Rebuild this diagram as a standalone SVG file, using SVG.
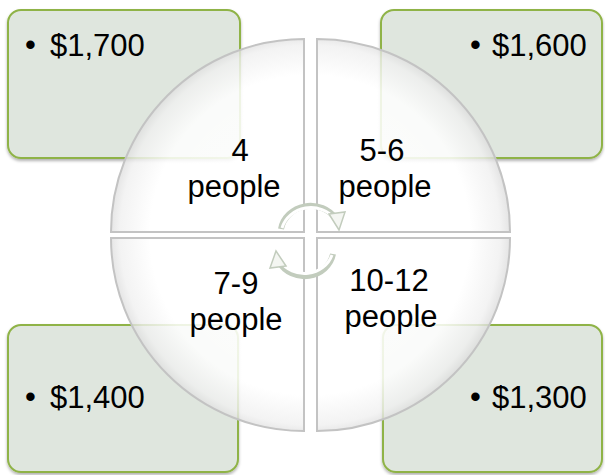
<svg xmlns="http://www.w3.org/2000/svg" width="605" height="475" viewBox="0 0 605 475">
<defs>
<style>
.box{fill:#dfe6de;stroke:#8fb347;stroke-width:2}
.q{fill:url(#glass);stroke:#c3c3c3;stroke-width:2}
.t{font-family:"Liberation Sans",Arial,sans-serif;font-size:31px;fill:#000}
.c{text-anchor:middle}
.arr{fill:none;stroke:#c2ccbd;stroke-width:6;stroke-linecap:butt}
.arri{fill:none;stroke:#ffffff;stroke-width:3}
.ah{fill:#f4f6f2;stroke:#c2ccbd;stroke-width:1.5}
</style>
<radialGradient id="glass" gradientUnits="userSpaceOnUse" cx="310" cy="235" r="200">
<stop offset="0" stop-color="#ffffff" stop-opacity="0.95"/>
<stop offset="0.8" stop-color="#ffffff" stop-opacity="0.85"/>
<stop offset="0.95" stop-color="#f0f0f0" stop-opacity="0.8"/>
<stop offset="1" stop-color="#dedede" stop-opacity="0.8"/>
</radialGradient>
<filter id="sh" x="-5%" y="-5%" width="110%" height="115%">
<feDropShadow dx="0" dy="2" stdDeviation="1.5" flood-color="#000" flood-opacity="0.3"/>
</filter>
</defs>
<g id="box-tl"><rect class="box" x="8" y="10" width="232" height="148" rx="13" filter="url(#sh)"/></g>
<g id="box-tr"><rect class="box" x="381" y="10" width="221" height="148" rx="13" filter="url(#sh)"/></g>
<g id="box-bl"><rect class="box" x="8" y="325" width="230" height="147" rx="13" filter="url(#sh)"/></g>
<g id="box-br"><rect class="box" x="383" y="325" width="219" height="147" rx="13" filter="url(#sh)"/></g>
<g id="quad-tl"><path class="q" d="M304,232 L111,232 A193,193 0 0 1 304,39 Z"/></g>
<g id="quad-tr"><path class="q" d="M317,232 L317,39 A193,193 0 0 1 510,232 Z"/></g>
<g id="quad-br"><path class="q" d="M317,238 L510,238 A193,193 0 0 1 317,431 Z"/></g>
<g id="quad-bl"><path class="q" d="M304,238 L304,431 A193,193 0 0 1 111,238 Z"/></g>
<g id="connectors">
<path class="arr" d="M281,229 A30,28 0 0 1 336,219"/>
<path class="arri" d="M282,228 A30,28 0 0 1 335,219"/>
<polygon class="ah" points="329,214 345,212 339,230"/>
<path class="arr" d="M333,254 A29,27 0 0 1 279,262"/>
<path class="arri" d="M332,255 A29,27 0 0 1 280,261"/>
<polygon class="ah" points="286,266 270,268 276,251"/>
</g>
<g id="labels">
<text class="t" x="25" y="55">•</text><text class="t" x="50" y="56">$1,700</text>
<text class="t" x="470" y="55">•</text><text class="t" x="492" y="56">$1,600</text>
<text class="t" x="25" y="407">•</text><text class="t" x="50" y="408">$1,400</text>
<text class="t" x="470" y="407">•</text><text class="t" x="492" y="408">$1,300</text>
<text class="t c" x="240" y="161">4</text><text class="t c" x="234" y="197">people</text>
<text class="t c" x="382" y="161">5-6</text><text class="t c" x="385" y="197">people</text>
<text class="t c" x="236" y="294">7-9</text><text class="t c" x="236" y="330">people</text>
<text class="t c" x="389" y="291">10-12</text><text class="t c" x="391" y="327">people</text>
</g>
</svg>
